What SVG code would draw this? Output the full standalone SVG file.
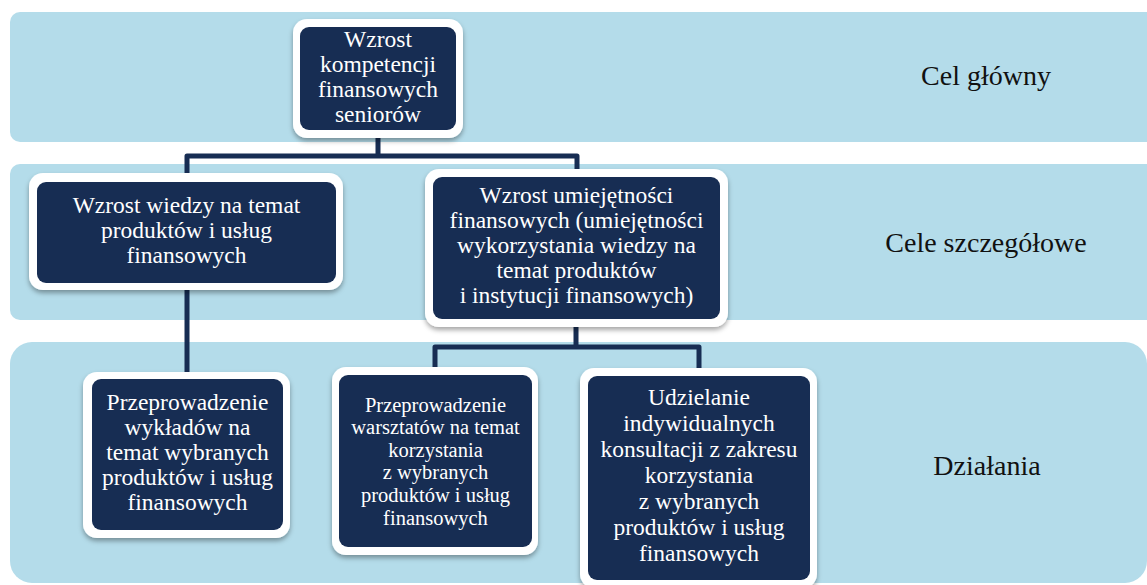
<svg xmlns="http://www.w3.org/2000/svg" width="1147" height="585" viewBox="0 0 1147 585">
  <defs>
    <filter id="sh" x="-10%" y="-10%" width="120%" height="130%">
      <feDropShadow dx="0" dy="3" stdDeviation="2.5" flood-color="#000" flood-opacity="0.35"/>
    </filter>
  </defs>
  <style>
    .band { fill: #b4dcea; }
    .outer { fill: #ffffff; filter: url(#sh); }
    .inner { fill: #172d53; }
    .t { font-family: "Liberation Serif", "Times New Roman", serif; font-size: 23.5px; fill: #ffffff; text-anchor: middle; }
    .ts { font-size: 20.5px; }
    .lbl { font-family: "Liberation Serif", "Times New Roman", serif; font-size: 28px; fill: #111111; text-anchor: middle; }
    .conn { fill: none; stroke: #172d53; stroke-width: 5; stroke-linejoin: round; stroke-linecap: butt; }
  </style>

  <g id="bands">
    <rect class="band" x="10" y="12" width="1150" height="130" rx="10"/>
    <rect class="band" x="10" y="164" width="1150" height="156" rx="10"/>
    <rect class="band" x="10" y="342" width="1137" height="241" rx="22"/>
  </g>

  <g id="labels">
    <text class="lbl" x="986" y="85">Cel główny</text>
    <text class="lbl" x="986" y="252">Cele szczegółowe</text>
    <text class="lbl" x="987" y="475">Działania</text>
  </g>

  <g id="connectors">
    <path class="conn" d="M378 134 V156 M187 176 V156 H577 V172"/>
    <path class="conn" d="M187 286 V375"/>
    <path class="conn" d="M576 322 V347 M435 370 V347 H699 V371"/>
  </g>

  <g id="node-cel-glowny">
    <rect class="outer" x="293" y="19" width="170" height="119" rx="14"/>
    <rect class="inner" x="300" y="27" width="156" height="103" rx="9"/>
    <text class="t" x="378" y="47">Wzrost</text>
    <text class="t" x="378" y="72">kompetencji</text>
    <text class="t" x="378" y="97">finansowych</text>
    <text class="t" x="378" y="122">seniorów</text>
  </g>

  <g id="node-wiedza">
    <rect class="outer" x="29" y="173" width="314" height="117" rx="14"/>
    <rect class="inner" x="37" y="182" width="299" height="101" rx="9"/>
    <text class="t" x="186.5" y="213">Wzrost wiedzy na temat</text>
    <text class="t" x="186.5" y="238">produktów i usług</text>
    <text class="t" x="186.5" y="263">finansowych</text>
  </g>

  <g id="node-umiejetnosci">
    <rect class="outer" x="425" y="169" width="303" height="158" rx="14"/>
    <rect class="inner" x="433" y="177" width="287" height="142" rx="9"/>
    <text class="t" x="576.5" y="203">Wzrost umiejętności</text>
    <text class="t" x="576.5" y="228">finansowych (umiejętności</text>
    <text class="t" x="576.5" y="253">wykorzystania wiedzy na</text>
    <text class="t" x="576.5" y="278">temat produktów</text>
    <text class="t" x="576.5" y="303">i instytucji finansowych)</text>
  </g>

  <g id="node-wyklady">
    <rect class="outer" x="83" y="372" width="207" height="166" rx="14"/>
    <rect class="inner" x="92" y="379" width="191" height="151" rx="9"/>
    <text class="t" x="187.5" y="410">Przeprowadzenie</text>
    <text class="t" x="187.5" y="435">wykładów na</text>
    <text class="t" x="187.5" y="460">temat wybranych</text>
    <text class="t" x="187.5" y="485">produktów i usług</text>
    <text class="t" x="187.5" y="510">finansowych</text>
  </g>

  <g id="node-warsztaty">
    <rect class="outer" x="332" y="367" width="206" height="188" rx="14"/>
    <rect class="inner" x="339" y="375" width="193" height="172" rx="9"/>
    <text class="t ts" x="435.5" y="412">Przeprowadzenie</text>
    <text class="t ts" x="435.5" y="434">warsztatów na temat</text>
    <text class="t ts" x="435.5" y="457">korzystania</text>
    <text class="t ts" x="435.5" y="479">z wybranych</text>
    <text class="t ts" x="435.5" y="502">produktów i usług</text>
    <text class="t ts" x="435.5" y="525">finansowych</text>
  </g>

  <g id="node-konsultacje">
    <rect class="outer" x="580" y="368" width="237" height="220" rx="14"/>
    <rect class="inner" x="588" y="376" width="222" height="204" rx="9"/>
    <text class="t" x="699" y="405">Udzielanie</text>
    <text class="t" x="699" y="431">indywidualnych</text>
    <text class="t" x="699" y="457">konsultacji z zakresu</text>
    <text class="t" x="699" y="483">korzystania</text>
    <text class="t" x="699" y="509">z wybranych</text>
    <text class="t" x="699" y="535">produktów i usług</text>
    <text class="t" x="699" y="561">finansowych</text>
  </g>
</svg>
